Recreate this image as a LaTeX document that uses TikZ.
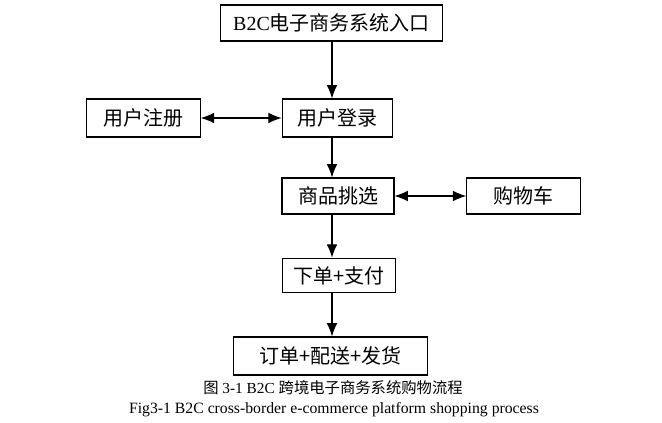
\documentclass[tikz,border=0pt]{standalone}
\usepackage{fontspec}
\setmainfont{Liberation Serif}
\newfontfamily\cjk{Noto Sans CJK SC}
\usepackage{tikz}
\usetikzlibrary{positioning, arrows.meta}

\begin{document}
\begin{tikzpicture}[
            x=0.75pt, y=-0.75pt,
            stepbox/.style={draw, line width=0.8pt, inner sep=0pt, minimum height=27pt, font=\fontsize{15}{18}\selectfont\cjk},
            flow/.style={line width=0.8pt, -{Latex[length=10pt, width=8pt]}},
            twoway/.style={line width=0.8pt, {Latex[length=10pt, width=8pt]}-{Latex[length=10pt, width=8pt]}},
        ]
            \useasboundingbox (0,0) rectangle (662,423);
            \coordinate (trunk) at (332,0);
            % main column
            \node[stepbox, minimum width=167pt] (entry) at (331.5,23) {{\rmfamily B2C}电子商务系统入口};
            \node[stepbox, minimum width=83pt, minimum height=28.5pt] (login) at (337.5,118) {用户登录};
            \node[stepbox, minimum width=84pt] (select) at (338,196) {商品挑选};
            \node[stepbox, minimum width=85pt, minimum height=26pt] (pay) at (339,275.5) {下单+支付};
            \node[stepbox, minimum width=146pt, minimum height=28.5pt] (ship) at (330.5,356) {订单+配送+发货};
            % side boxes
            \node[stepbox, minimum width=85pt, minimum height=28.5pt] (register) at (143.5,118) {用户注册};
            \node[stepbox, minimum width=85pt] (cart) at (523.5,196) {购物车};
            % connectors
            \draw[flow] (entry.south -| trunk) -- (login.north -| trunk);
            \draw[flow] (login.south -| trunk) -- (select.north -| trunk);
            \draw[flow] (select.south -| trunk) -- (pay.north -| trunk);
            \draw[flow] (pay.south -| trunk) -- (ship.north -| trunk);
            \draw[twoway] (register) -- (login);
            \draw[twoway] (select) -- (cart);
            % caption
            \node[font=\fontsize{11.5}{13}\selectfont] (capcn) at (333,388) {{\cjk 图} 3-1 B2C {\cjk 跨境电子商务系统购物流程}};
            \node[font=\fontsize{11.8}{13}\selectfont] (capen) at (334,410) {Fig3-1 B2C cross-border e-commerce platform shopping process};
        \end{tikzpicture}
\end{document}
